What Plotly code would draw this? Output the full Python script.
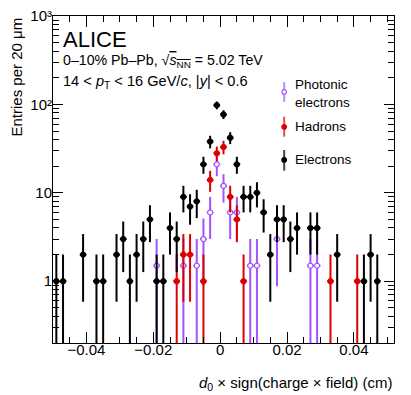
import numpy as np
import plotly.graph_objects as go

# bin centres (cm) and entries per 20 um bin
ele_x = [-0.049, -0.047, -0.041, -0.037, -0.035, -0.031, -0.029, -0.027, -0.025,
         -0.023, -0.021, -0.019, -0.017, -0.015, -0.013, -0.011, -0.009, -0.007,
         -0.005, -0.003, -0.001, 0.001, 0.003, 0.005, 0.007, 0.009, 0.011, 0.013,
         0.015, 0.017, 0.019, 0.021, 0.023, 0.027, 0.029, 0.035, 0.043, 0.045, 0.047]
ele_n = [1, 1, 2, 1, 1, 2, 3, 1, 2,
         3, 5, 1, 1, 4, 3, 9, 7, 8,
         21, 38, 98, 77, 42, 21, 9, 9, 10, 6,
         2, 5, 5, 3, 4, 4, 4, 2, 1, 2, 1]

had_x = [-0.013, -0.011, -0.009, -0.005, -0.003, -0.001, 0.001, 0.003, 0.005, 0.007, 0.033, 0.041]
had_n = [1, 2, 2, 1, 14, 28, 33, 9, 5, 1, 1, 1]

pho_x = [-0.019, -0.011, -0.007, -0.005, -0.003, -0.001, 0.001, 0.003, 0.005,
         0.009, 0.011, 0.017, 0.027, 0.029]
pho_n = [1.5, 1.5, 1.5, 3, 6, 21, 12, 6, 6, 1.5, 1.5, 3, 1.5, 1.5]
pho_w = 1.5  # weight per photonic entry

y_ticks = [1, 10, 100, 1000]
y_ticktext = ['1', '10', '10\u00b2', '10\u00b3']

half_bin = 0.001

PURPLE = '#a352ff'
RED = '#dd0000'
BLACK = '#000000'
FONT = 'Liberation Sans, Arial, Helvetica, sans-serif'


def addSeries(fig, x, n, err, color, fill, name):
    fig.add_trace(go.Scatter(
        x=x, y=n, mode='markers', name=name, showlegend=False,
        marker=dict(symbol='circle', size=5, color=fill, line=dict(color=color, width=1.2)),
        error_y=dict(type='data', array=err, color=color, thickness=2, width=0),
        error_x=dict(type='data', array=[half_bin] * len(x), color=color, thickness=2, width=0),
    ))


fig = go.Figure()
addSeries(fig, pho_x, pho_n, list(np.sqrt(pho_w * np.array(pho_n))), PURPLE, 'white', 'Photonic electrons')
addSeries(fig, had_x, had_n, list(np.sqrt(had_n)), RED, RED, 'Hadrons')
addSeries(fig, ele_x, ele_n, list(np.sqrt(ele_n)), BLACK, BLACK, 'Electrons')

minor_y = [m * 10 ** e for e in range(-1, 3) for m in range(2, 10)]

# page body has an 8px margin, so the figure is shrunk by that much
fig.update_layout(
    width=403, height=387,
    margin=dict(l=45, r=17, t=8, b=52),
    paper_bgcolor='white', plot_bgcolor='white',
    font=dict(family=FONT, size=15, color='black'),
    xaxis=dict(
        range=[-0.05, 0.052], tick0=0, dtick=0.02, automargin=False, ticklabelstandoff=-7,
        ticks='inside', ticklen=11, tickwidth=1, tickcolor='black',
        showline=True, linecolor='black', linewidth=1, mirror='allticks',
        showgrid=False, zeroline=False,
        minor=dict(dtick=0.005, tick0=0, ticks='inside', ticklen=6, tickcolor='black', showgrid=False),
    ),
    yaxis=dict(
        type='log', range=[np.log10(0.2), 3], automargin=False, ticklabelstandoff=-3,
        ticklabeloverflow='allow',
        tickvals=y_ticks, ticktext=y_ticktext,
        ticks='inside', ticklen=10, tickwidth=1, tickcolor='black',
        showline=True, linecolor='black', linewidth=1, mirror='allticks',
        showgrid=False, zeroline=False,
        minor=dict(tickvals=minor_y, ticks='inside', ticklen=6, tickcolor='black', showgrid=False),
    ),
)

ann = [
    dict(x=0.024, y=0.928, text='ALICE', font=dict(size=22)),
    dict(x=0.024, y=0.862, font=dict(size=14.2),
         text='0\u201310% Pb\u2013Pb, \u221a<span style="text-decoration:overline"><i>s</i><sub>NN</sub></span> = 5.02 TeV'),
    dict(x=0.024, y=0.798, font=dict(size=14.6),
         text='14 &lt; <i>p</i><sub>T</sub> &lt; 16 GeV/<i>c</i>, |<i>y</i>| &lt; 0.6'),
    dict(x=0.704, y=0.762, text='Photonic<br>electrons', font=dict(size=13.5)),
    dict(x=0.704, y=0.661, text='Hadrons', font=dict(size=13.5)),
    dict(x=0.704, y=0.560, text='Electrons', font=dict(size=13.5)),
]
for a in ann:
    fig.add_annotation(xref='paper', yref='paper', xanchor='left', yanchor='middle',
                       showarrow=False, align='left', **a)

# axis titles, ROOT style (right / top aligned)
fig.add_annotation(xref='paper', yref='paper', x=1.0, y=-0.125, xanchor='right', yanchor='middle',
                   showarrow=False, font=dict(size=15),
                   text='<i>d</i><sub>0</sub> \u00d7 sign(charge \u00d7 field) (cm)')
fig.add_annotation(xref='paper', yref='paper', x=-0.1056, y=1.003, xanchor='center', yanchor='top',
                   showarrow=False, textangle=-90, font=dict(size=15),
                   text='Entries per 20 \u03bcm')

# legend symbols: vertical error bar with marker
leg = [(0.798, 0.737, 0.768, '#b98cff', PURPLE, 'white'),
       (0.692, 0.631, 0.661, '#e05050', RED, RED),
       (0.590, 0.527, 0.560, '#444444', BLACK, BLACK)]
for y0, y1, yc, bar, edge, fill in leg:
    fig.add_shape(type='line', xref='paper', yref='paper', x0=0.678, x1=0.678, y0=y0, y1=y1,
                  line=dict(color=bar, width=2))
    fig.add_shape(type='circle', xref='paper', yref='paper', xsizemode='pixel', ysizemode='pixel',
                  xanchor=0.678, yanchor=yc, x0=-2.3, x1=2.3, y0=-2.3, y1=2.3,
                  line=dict(color=edge, width=1.2), fillcolor=fill)

fig.write_html("out.html")
